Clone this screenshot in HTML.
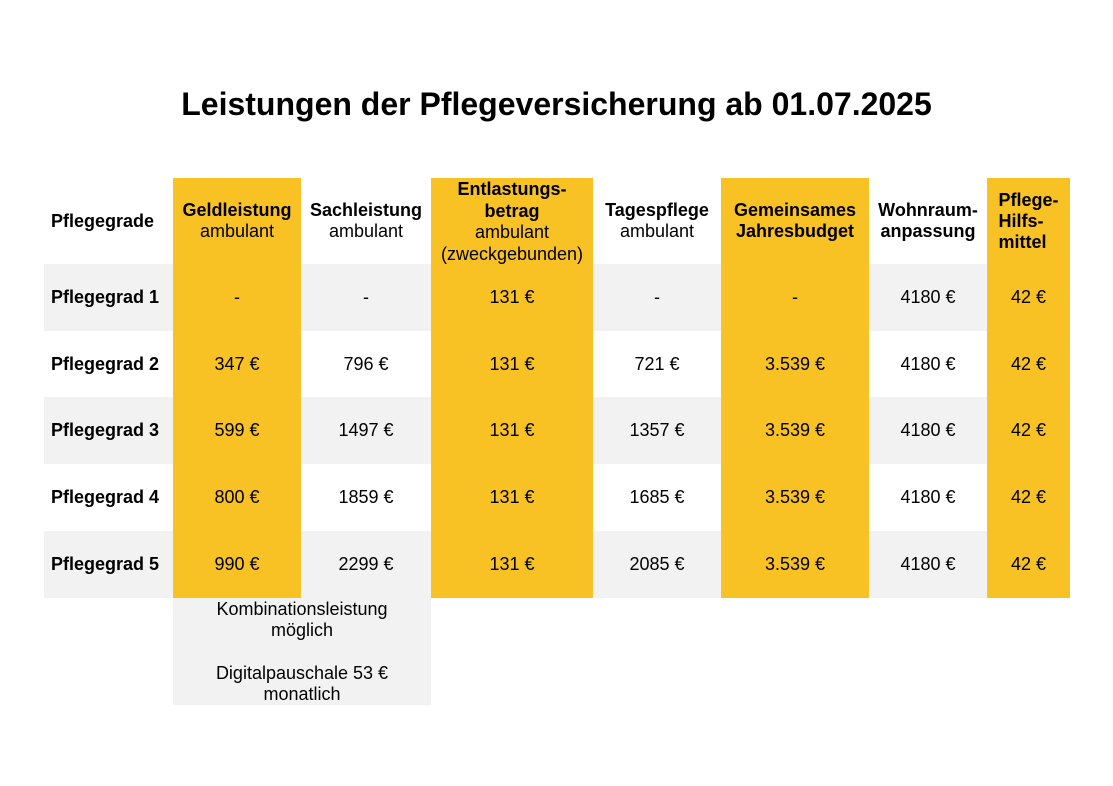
<!DOCTYPE html>
<html><head><meta charset="utf-8"><style>
body{margin:0;width:1113px;height:786px;background:#fff;font-family:"Liberation Sans",Arial,sans-serif;position:relative;overflow:hidden;color:#000}
.b{position:absolute}
.c{position:absolute;display:flex;align-items:center;justify-content:center;text-align:center;font-size:18px;line-height:21px}
.h{font-weight:bold;font-size:18px;line-height:21px}
.y{background:#f8c124}.g{background:#f2f2f2}
</style></head><body>
<div class="b" style="left:0;top:85px;width:1113px;text-align:center;font-weight:bold;font-size:32px;line-height:38px">Leistungen der Pflegeversicherung ab 01.07.2025</div>
<div id="t"></div>
<script>
var X=[44,173,301,431,593,721,869,987,1070];
var Y=[178,264,331,397,464,531,598];
var yel=[1,3,5,7];
var hdr=['<b class="h">Pflegegrade</b>','<b class="h">Geldleistung</b><br>ambulant','<b class="h">Sachleistung</b><br>ambulant','<b class="h" style="line-height:21.7px">Entlastungs-<br>betrag</b><br><span style="line-height:21.7px">ambulant<br>(zweckgebunden)</span>','<b class="h">Tagespflege</b><br>ambulant','<b class="h">Gemeinsames<br>Jahresbudget</b>','<b class="h">Wohnraum-<br>anpassung</b>','<b class="h" style="display:block;text-align:left">Pflege-<br>Hilfs-<br>mittel</b>'];
var rows=[['Pflegegrad 1','-','-','131 €','-','-','4180 €','42 €'],
['Pflegegrad 2','347 €','796 €','131 €','721 €','3.539 €','4180 €','42 €'],
['Pflegegrad 3','599 €','1497 €','131 €','1357 €','3.539 €','4180 €','42 €'],
['Pflegegrad 4','800 €','1859 €','131 €','1685 €','3.539 €','4180 €','42 €'],
['Pflegegrad 5','990 €','2299 €','131 €','2085 €','3.539 €','4180 €','42 €']];
var h='';
for(var r=0;r<6;r++){for(var c=0;c<8;c++){
 var cls='c';
 if(yel.indexOf(c)>=0)cls+=' y';else if(r>0&&r%2==1)cls+=' g';
 var txt=r==0?hdr[c]:(c==0?'<b class="h">'+rows[r-1][c]+'</b>':rows[r-1][c]);
 var st='left:'+X[c]+'px;top:'+Y[r]+'px;width:'+(X[c+1]-X[c])+'px;height:'+(Y[r+1]-Y[r])+'px;';
 if(c==0)st+='justify-content:flex-start;padding-left:7px;box-sizing:border-box;';
 if(r==0&&c==3)st+='align-items:flex-start;padding-top:1px;box-sizing:border-box;line-height:21.7px;';
 h+='<div class="'+cls+'" style="'+st+'"><div>'+txt+'</div></div>';
}}
h+='<div class="c g" style="left:173px;top:598px;width:258px;height:107px;flex-direction:column;justify-content:flex-start;padding-top:1px;box-sizing:border-box"><div>Kombinationsleistung<br>möglich</div><div style="margin-top:22px">Digitalpauschale 53 €<br>monatlich</div></div>';
document.getElementById('t').innerHTML=h;
</script>
</body></html>
